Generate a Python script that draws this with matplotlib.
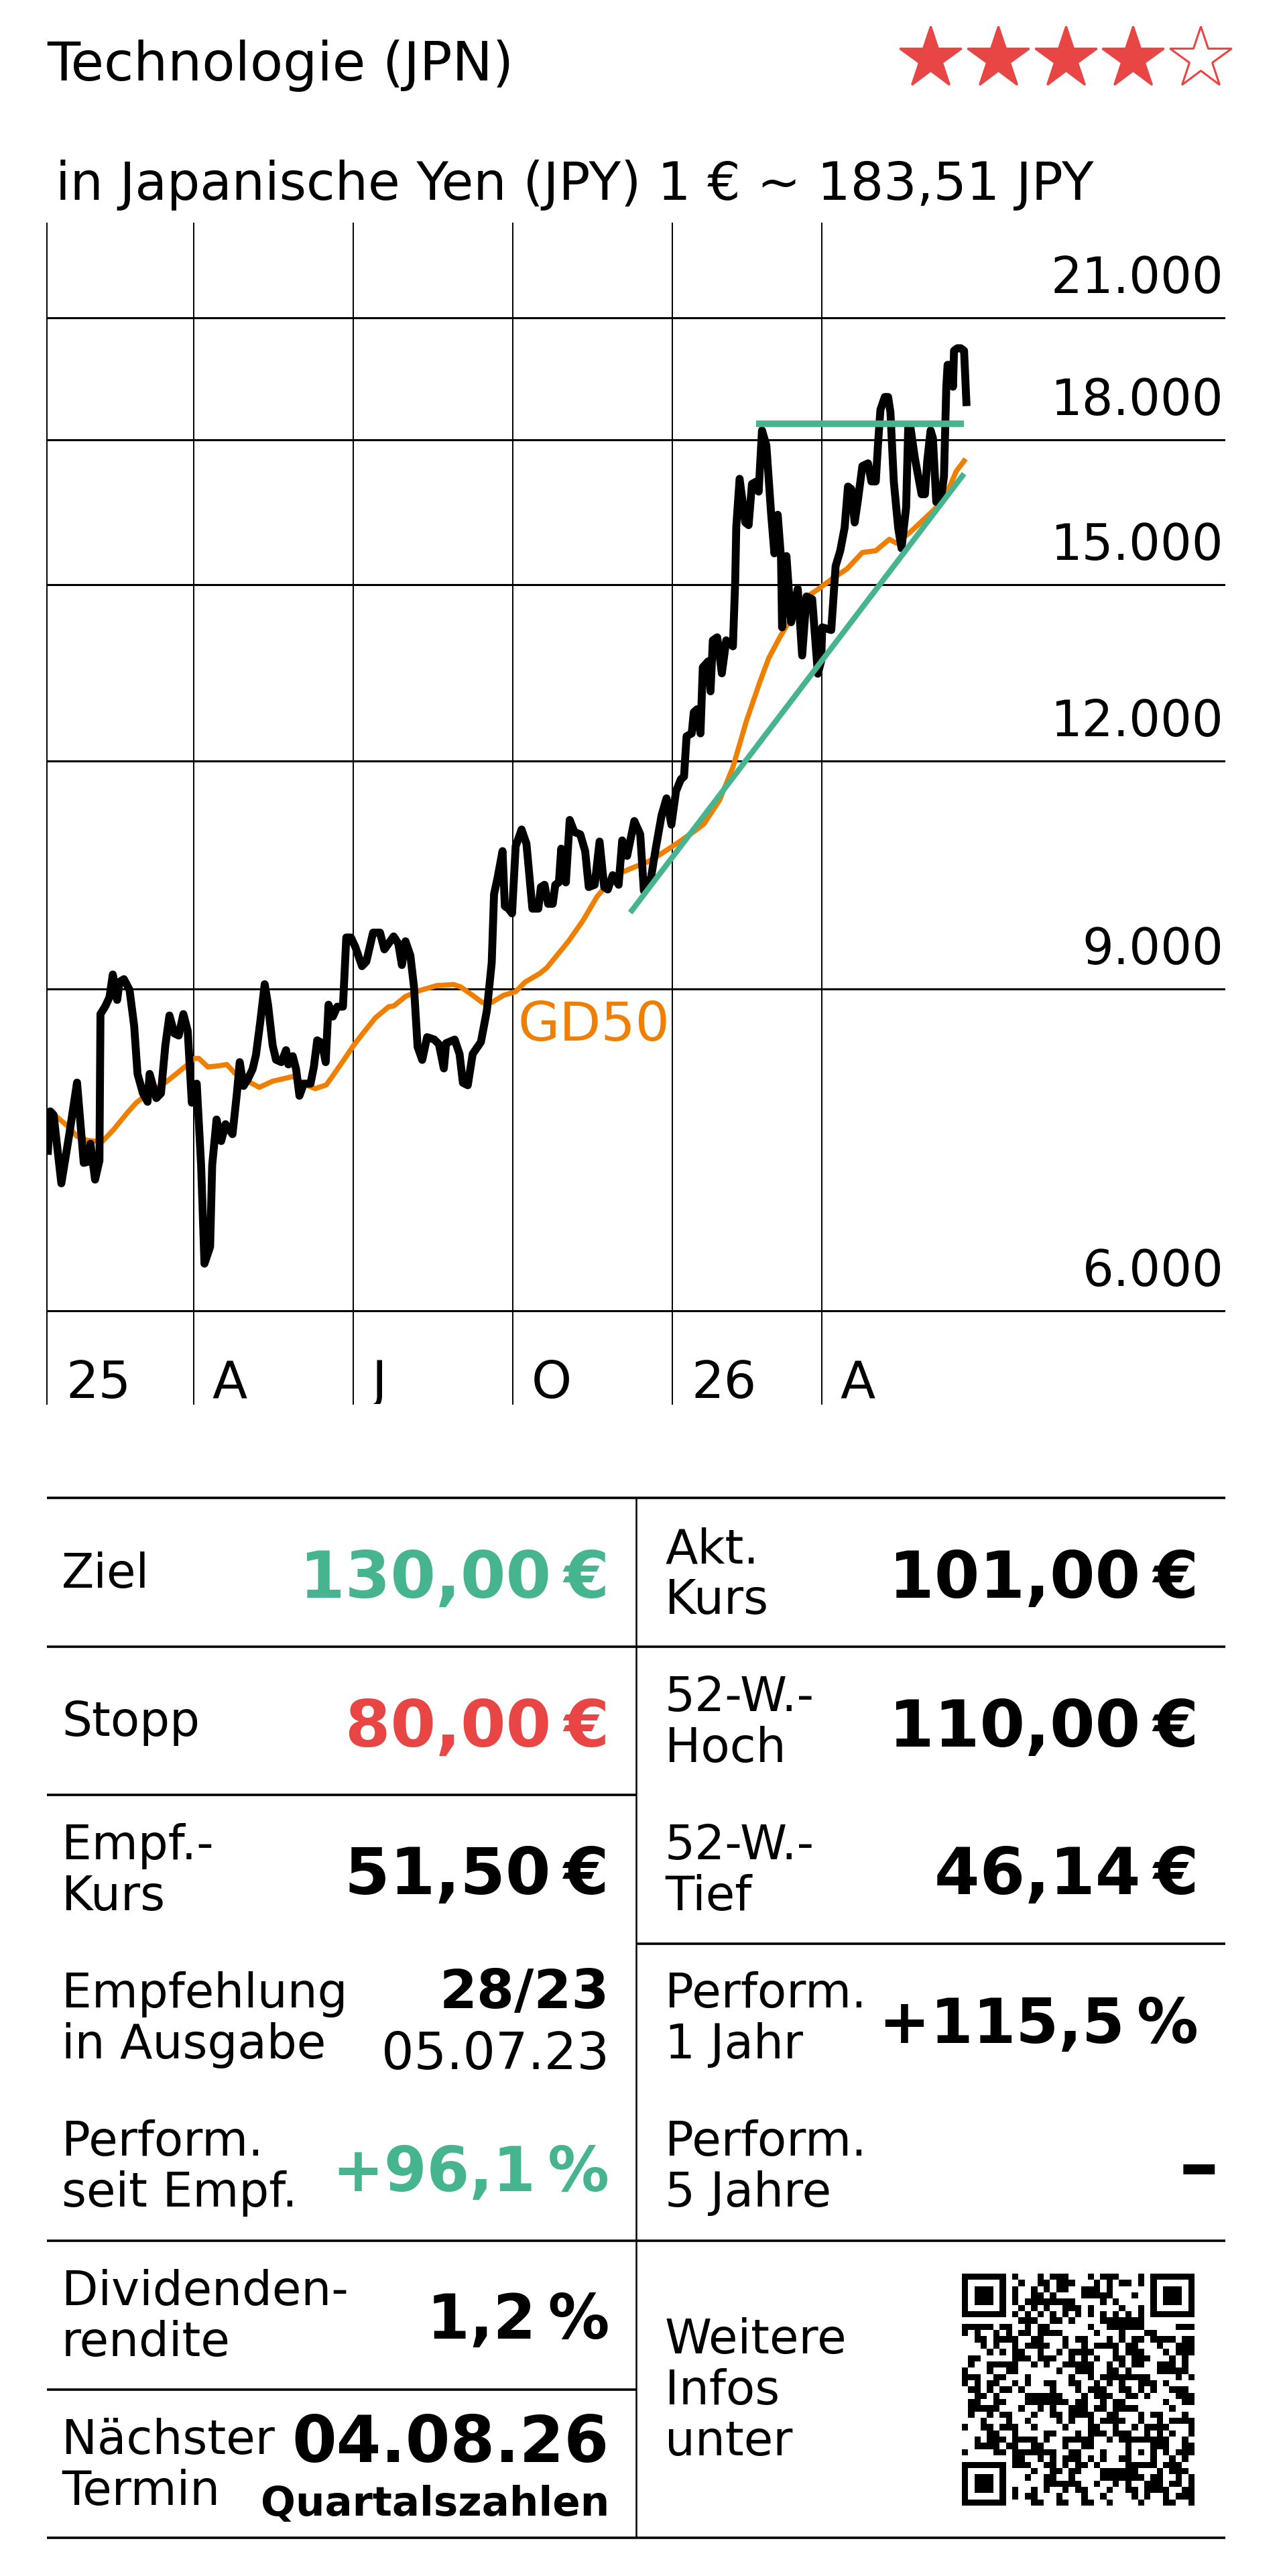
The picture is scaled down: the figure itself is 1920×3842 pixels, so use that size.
# Technologie (JPN) – Kurschart mit GD50, Trendlinien und Kennzahlen-Tabelle
import numpy as np
import matplotlib
matplotlib.use('Agg')
import matplotlib.pyplot as plt
from matplotlib.transforms import offset_copy

plt.rcParams['font.family'] = ['DejaVu Sans']

# --- Daten ---------------------------------------------------------------
# Handelstage seit Jahresanfang 2025 und Kurse in JPY
kurs_tage = [0.4, 1.3, 2.6, 5.6, 8.7, 11.7, 14.3, 16.1, 16.9, 18.7, 20.4, 20.8, 22.6, 24.3, 25.6,
             27.3, 28.2, 29.9, 32.1, 33.9, 35.2, 37.3, 39.1, 39.9, 42.5, 44.3, 46.0, 47.6, 49.5,
             51.2, 53.0, 54.7, 56.3, 58.2, 59.9, 61.2, 63.4, 64.2, 65.9, 67.7, 69.4, 72.1, 73.8,
             74.9, 76.4, 78.1, 79.9, 81.2, 82.9, 84.6, 85.9, 87.7, 89.0, 91.1, 92.9, 93.8, 95.5,
             96.8, 98.1, 99.8, 102.4, 103.7, 105.0, 106.8, 108.3, 109.4, 111.1, 112.8, 115.0,
             116.3, 118.1, 119.8, 122.4, 124.1, 126.7, 129.4, 131.1, 134.7, 136.5, 137.9, 139.3,
             141.2, 142.6, 144.0, 145.8, 147.7, 150.5, 152.3, 154.2, 155.1, 158.4, 160.3, 161.6,
             163.5, 165.4, 168.6, 170.9, 172.8, 173.7, 175.1, 177.0, 177.9, 179.3, 180.7, 182.1,
             184.4, 186.3, 188.6, 190.9, 191.9, 193.3, 194.7, 196.5, 197.5, 198.9, 199.8, 201.6,
             203.1, 204.9, 207.2, 209.1, 210.5, 212.8, 214.7, 216.5, 217.9, 219.8, 222.1, 223.5,
             225.4, 228.2, 230.5, 231.9, 234.7, 236.5, 238.8, 240.7, 242.6, 244.4, 246.3, 247.5,
             248.5, 250.5, 251.3, 252.6, 253.9, 254.8, 256.9, 257.8, 258.7, 260.4, 262.2, 263.9,
             266.5, 267.4, 267.8, 269.1, 271.3, 272.6, 273.9, 275.6, 276.5, 277.8, 279.5, 281.3,
             282.6, 283.9, 285.2, 285.6, 287.3, 289.1, 291.7, 293.4, 295.1, 297.3, 298.6, 299.5,
             300.8, 301.2, 304.7, 306.4, 308.2, 309.9, 311.2, 312.5, 313.8, 315.1, 316.8, 319.0,
             320.3, 322.0, 322.9, 323.8, 325.5, 326.8, 327.7, 329.0, 330.7, 332.0, 333.8, 334.6,
             335.5, 337.2, 338.5, 339.8, 341.1, 342.0, 343.3, 344.2, 345.5, 347.7, 348.5, 349.4,
             349.9, 351.1, 352.0, 352.4, 353.7, 355.0, 356.3, 357.2]
kurs_werte = [7340, 7715, 7680, 7045, 7496, 8000, 7229, 7240, 7406, 7078, 7251, 8722, 8804, 8909, 9169,
              8879, 9084, 9115, 8992, 8590, 8088, 7892, 7809, 8088, 7845, 7892, 8384, 8707, 8512,
              8489, 8722, 8539, 7799, 7989, 7208, 6366, 6503, 7208, 7636, 7431, 7591, 7496, 7892,
              8209, 7966, 8037, 8137, 8282, 8641, 9057, 8826, 8384, 8234, 8209, 8334, 8185, 8271,
              8137, 7868, 7989, 7989, 8160, 8438, 8410, 8209, 8826, 8695, 8804, 8804,
              9607, 9607, 9494, 9266, 9321, 9666, 9666, 9464, 9620, 9534, 9279, 9561,
              9390, 9027, 8370, 8232, 8472, 8446, 8396, 8144, 8408, 8446, 8294, 7998,
              7973, 8294, 8420, 8759, 9306, 10146, 10363, 10713, 9993, 9963, 9903, 10779,
              11009, 10812, 9963, 9963, 10238, 10268, 10024, 10024, 10268, 10299, 10746, 10299,
              11143, 10975, 10942, 10713, 10238, 10268, 10843, 10238, 10207, 10393, 10268, 10859,
              10649, 11127, 10942, 10192, 10363, 10746, 11210, 11451, 11076, 11555, 11731, 11768,
              12384, 12429, 12765, 12813, 12429, 13509, 13612, 13106, 13977, 14030, 13407, 13977,
              13872, 15076, 16126, 17136, 16218, 16164, 17025, 17078, 16862, 18215, 17874, 16428,
              15599, 16376, 15498, 14208, 15545, 14300, 14916, 13712, 14773, 14722, 13933, 13401,
              13621, 14208, 14160, 15349, 15651, 16112, 16970, 16915, 16218, 16697, 17415, 17474,
              17080, 17080, 17931, 18694, 19000, 19000, 18634, 17080, 16112, 15699, 16537, 18274,
              18274, 17587, 17195, 16806, 16806, 17528, 18215, 18039, 16643, 16860, 17192, 19248,
              19786, 19786, 19248, 20143, 20206, 20206, 20143, 18877]

gd50_tage = [3.5, 7.8, 11.7, 15.6, 18.2, 21.7, 26.0, 31.3, 34.7, 38.2, 46.0, 51.2, 54.7, 57.3, 59.0,
             62.5, 66.8, 69.9, 72.9, 79.0, 82.5, 87.7, 95.5, 101.6, 104.2, 108.5, 110.2, 115.4,
             118.9, 122.4, 127.6, 132.8, 134.7, 139.3, 144.9, 151.4, 157.9, 160.7, 165.4, 169.1,
             172.8, 177.4, 182.1, 185.8, 191.4, 194.2, 202.6, 208.2, 213.7, 216.5, 223.0, 228.6,
             233.3, 238.8, 245.3, 251.8, 255.2, 261.3, 266.5, 271.7, 276.9, 280.4, 284.7, 288.2,
             294.3, 299.5, 305.5, 310.8, 316.8, 322.0, 327.3, 329.9, 335.1, 339.4, 344.6, 349.0,
             353.3, 356.3]
gd50_werte = [7668, 7578, 7475, 7438, 7431, 7431, 7542, 7703, 7799, 7868, 8000, 8109, 8185, 8248, 8248,
              8160, 8171, 8185, 8098, 8000, 7952, 8014, 8061, 7966, 7939, 7976, 8037, 8234,
              8375, 8500, 8681, 8804, 8811, 8918, 8986, 9041, 9054, 9027, 8931, 8851,
              8851, 8931, 8973, 9082, 9179, 9247, 9561, 9812, 10115, 10224, 10425, 10505,
              10567, 10681, 10831, 10993, 11085, 11424, 11910, 12619, 13255, 13665, 14030, 14298,
              14737, 14905, 15122, 15295, 15615, 15650, 15878, 15802, 16008, 16218, 16481, 16751,
              17304, 17528]

trend_tage = [226.6, 356.3]
trend_werte = [9913, 17248]
widerstand_tage = [275.6, 356.3]
widerstand_wert = 18365

quartal_tage = [0, 57, 119, 181, 243, 301]
quartal_namen = ['25', 'A', 'J', 'O', '26', 'A']
kurs_raster = [6000, 9000, 12000, 15000, 18000, 21000]

titel = 'Technologie (JPN)'
untertitel = 'in Japanische Yen (JPY) 1 € ~ 183,51 JPY'
sterne = 4

links_titel = ['Ziel', 'Stopp', 'Empf.-\nKurs', 'Empfehlung\nin Ausgabe', 'Perform.\nseit Empf.',
               'Dividenden-\nrendite', 'Nächster\nTermin']
links_wert = ['130,00\u2009€', '80,00\u2009€', '51,50\u2009€', '28/23', '+96,1\u2009%', '1,2\u2009%', '04.08.26']
ausgabe_datum = '05.07.23'
termin_art = 'Quartalszahlen'
rechts_titel = ['Akt.\nKurs', '52-W.-\nHoch', '52-W.-\nTief', 'Perform.\n1 Jahr', 'Perform.\n5 Jahre',
                'Weitere\nInfos\nunter']
rechts_wert = ['101,00\u2009€', '110,00\u2009€', '46,14\u2009€', '+115,5\u2009%', '–']

GRUEN = '#46B48F'
ROT = '#E84545'
ORANGE = '#EF7F00'

# --- Abbildung -----------------------------------------------------------
W, H = 1920, 3842
fig = plt.figure(figsize=(W / 100, H / 100), dpi=100)

ax = fig.add_axes([70 / W, 1 - 2094 / H, (1828 - 70) / W, (2094 - 333) / H])
ax.set_yscale('log')
ax.axis('off')

for t in quartal_tage:
    ax.axvline(t, color='black', lw=1.4, clip_on=False, zorder=1)
for v in kurs_raster:
    ax.axhline(v, color='black', lw=2.2, zorder=1)

ax.plot(gd50_tage, gd50_werte, color=ORANGE, lw=5.5, zorder=2)
ax.plot(kurs_tage, kurs_werte, color='black', lw=8.5, zorder=3)
ax.plot(trend_tage, trend_werte, color=GRUEN, lw=6, solid_capstyle='butt', zorder=4)
ax.plot(widerstand_tage, [widerstand_wert] * 2, color=GRUEN, lw=7, solid_capstyle='butt', zorder=4)

ax.set_xlim(0, 457.8)
ax.set_ylim(5333, 23656)

# Achsenbeschriftungen im Diagramm
ytrans = offset_copy(ax.get_yaxis_transform(), fig=fig, y=37, units='dots')
for v in kurs_raster:
    ax.text(0.9985, v, f'{v:,}'.replace(',', '.'), transform=ytrans, ha='right', va='baseline',
            fontsize=53)
xtrans = offset_copy(ax.get_xaxis_transform(), fig=fig, x=28, units='dots')
for t, lab in zip(quartal_tage, quartal_namen):
    ax.text(t, 0.038, lab, transform=xtrans, ha='left', va='top', fontsize=55, clip_on=True)

ax.text(183, 8594, 'GD50', color=ORANGE, fontsize=58, va='center', ha='left')

# --- Kopf und Tabelle (Pixelkoordinaten) ---------------------------------
lay = fig.add_axes([0, 0, 1, 1])
lay.axis('off')

lay.text(70, 120, titel, fontsize=58, va='baseline')
lay.text(83, 298, untertitel, fontsize=56, va='baseline')
for i in range(5):
    lay.plot(1388 + i * 100.8, 87, marker='*', ms=69, mew=2.2, mec=ROT,
             mfc=ROT if i < sterne else 'white', ls='none')

# Tabellenlinien
for y in [2234, 2456, 3341.5, 3785]:
    lay.plot([70, 1828], [y, y], color='black', lw=2.6, solid_capstyle='butt')
for y in [2677, 3564]:
    lay.plot([70, 949], [y, y], color='black', lw=2.6, solid_capstyle='butt')
lay.plot([949, 1828], [2899, 2899], color='black', lw=2.6, solid_capstyle='butt')
lay.plot([949, 949], [2234, 3785], color='black', lw=1.8, solid_capstyle='butt')

zeilen_abstand = 76
links_basis = [2368, 2589, 2773, 2994, 3215, 3438, 3660]
rechts_basis = [2331, 2552, 2773, 2994, 3215, 3510]
wert_basis_links = [2383, 2605, 2825, 2995, 3268, 3488, 3672]
wert_basis_rechts = [2383, 2605, 2825, 3047, 3268]
farben_links = [GRUEN, ROT, 'black', 'black', GRUEN, 'black', 'black']


def wert_groesse(i, wert):
    if wert == '–':
        return 86
    if wert.endswith('%'):
        return 66
    return 70


for i, (wert, yb, farbe) in enumerate(zip(links_wert, wert_basis_links, farben_links)):
    groesse = {3: 58, 6: 69}.get(i, wert_groesse(i, wert))
    lay.text(909, yb, wert, color=farbe, fontsize=groesse, fontweight='bold', ha='right', va='baseline')
lay.text(909, 3086, ausgabe_datum, fontsize=55, ha='right', va='baseline')
lay.text(909, 3752, termin_art, fontsize=44, fontweight='bold', ha='right', va='baseline')

for lab, yb in zip(links_titel, links_basis):
    for k, zeile in enumerate(lab.split('\n')):
        lay.text(92, yb + k * zeilen_abstand, zeile, fontsize=51, va='baseline')
for lab, yb in zip(rechts_titel, rechts_basis):
    for k, zeile in enumerate(lab.split('\n')):
        lay.text(992, yb + k * zeilen_abstand, zeile, fontsize=51, va='baseline')

for i, (wert, yb) in enumerate(zip(rechts_wert, wert_basis_rechts)):
    xr = 1818 if wert == '–' else 1788
    lay.text(xr, yb, wert, fontsize=wert_groesse(i, wert), fontweight='bold', ha='right', va='baseline')


# QR-artiges Muster aus den Bits eines Textes (mit QR-Maske)
def qr_muster(text, n=37):
    bits = ''.join(f'{b:08b}' for b in text.encode('utf-8'))
    m = np.zeros((n, n), dtype=int)
    k = 0
    for r in range(n):
        for c in range(n):
            maske = ((r * c) % 2 + (r * c) % 3) == 0
            m[r, c] = int(bits[k % len(bits)]) ^ int(maske)
            k += 1
    for i in range(n):
        m[6, i] = m[i, 6] = 1 - i % 2
    for r0, c0 in [(0, 0), (0, n - 7), (n - 7, 0)]:
        rs, cs = max(r0 - 1, 0), max(c0 - 1, 0)
        m[rs:r0 + 8, cs:c0 + 8] = 0
        m[r0:r0 + 7, c0:c0 + 7] = 1
        m[r0 + 1:r0 + 6, c0 + 1:c0 + 6] = 0
        m[r0 + 2:r0 + 5, c0 + 2:c0 + 5] = 1
    a = n - 9
    m[a - 2:a + 3, a - 2:a + 3] = 1
    m[a - 1:a + 2, a - 1:a + 2] = 0
    m[a, a] = 1
    return m


qr = qr_muster('https://www.deraktionaer.de/technologie-jpn-weitere-infos')
lay.imshow(qr, cmap='gray_r', interpolation='nearest', extent=(1435, 1782, 3737, 3391),
           origin='upper', aspect='auto')

lay.set_xlim(0, W)
lay.set_ylim(H, 0)

fig.savefig('out.png', dpi=100, facecolor='white')
